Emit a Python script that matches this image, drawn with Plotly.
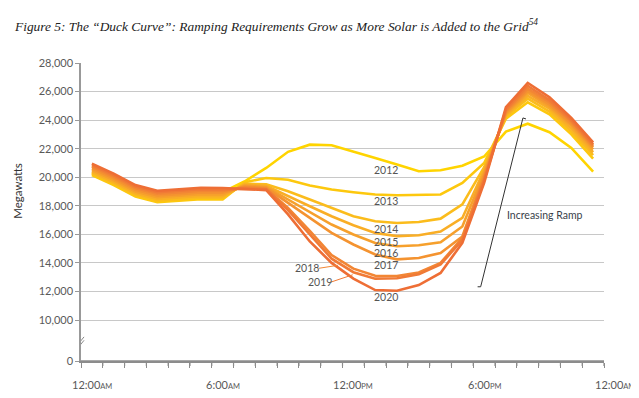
import plotly.graph_objects as go

hours = [h + 0.5 for h in range(24)]
years = ["2012", "2013", "2014", "2015", "2016", "2017", "2018", "2019", "2020"]

load_2012 = [20300, 19700, 18900, 18500, 18650, 18800, 18950, 19700, 20650, 21780, 22280, 22240,
             21820, 21350, 20890, 20420, 20490, 20800, 21450, 23200, 23750, 23150, 22050, 20400]
load_2013 = [20150, 19450, 18650, 18250, 18350, 18460, 18450, 19650, 19950, 19820, 19420, 19140,
             18950, 18790, 18740, 18770, 18790, 19600, 21000, 24100, 25250, 24400, 23000, 21300]
load_2014 = [20270, 19570, 18770, 18370, 18470, 18580, 18570, 19550, 19500, 19020, 18440, 17860,
             17270, 16920, 16800, 16870, 17100, 18100, 20700, 24250, 25500, 24600, 23200, 21550]
load_2015 = [20380, 19680, 18880, 18480, 18580, 18690, 18680, 19480, 19400, 18670, 17970, 17270,
             16640, 16100, 15880, 15940, 16200, 17150, 20500, 24350, 25700, 24800, 23400, 21750]
load_2016 = [20500, 19800, 19000, 18600, 18700, 18810, 18800, 19420, 19320, 18440, 17580, 16690,
             15990, 15400, 15170, 15240, 15450, 16550, 20300, 24450, 25900, 24950, 23600, 21950]
load_2017 = [20620, 19920, 19120, 18720, 18820, 18930, 18920, 19350, 19260, 18200, 17150, 16100,
             15290, 14590, 14250, 14350, 14700, 15850, 20100, 24550, 26050, 25100, 23750, 22100]
load_2018 = [20740, 20040, 19240, 18840, 18940, 19050, 19040, 19280, 19200, 17850, 16250, 14550,
             13600, 13100, 13080, 13330, 14000, 15750, 19900, 24650, 26200, 25250, 23900, 22200]
load_2019 = [20850, 20150, 19350, 18950, 19050, 19160, 19150, 19200, 19150, 17700, 16000, 14300,
             13350, 12900, 12930, 13200, 13900, 15600, 19800, 24750, 26400, 25400, 24000, 22300]
load_2020 = [20950, 20250, 19450, 19050, 19150, 19260, 19250, 19150, 19100, 17400, 15500, 14000,
             12900, 12100, 12050, 12450, 13300, 15400, 19600, 24900, 26600, 25600, 24150, 22450]

series = [load_2012, load_2013, load_2014, load_2015, load_2016, load_2017, load_2018, load_2019, load_2020]
colors = ["#FFD400", "#FDC80E", "#FBBC1C", "#F9AE26", "#F6A02C", "#F49330", "#F28634", "#F07A36", "#EE6E35"]

y_tick_vals = [7132, 10000, 12000, 14000, 16000, 18000, 20000, 22000, 24000, 26000, 28000]
y_tick_text = ["0", "10,000", "12,000", "14,000", "16,000", "18,000", "20,000", "22,000", "24,000", "26,000", "28,000"]
x_tick_vals = list(range(25))
x_label_pos = [0.5, 6.5, 12.5, 18.5, 24.5]
x_label_main = ["12:00", "6:00", "12:00", "6:00", "12:00"]
x_label_ampm = ["AM", "AM", "PM", "PM", "AM"]

FONT = "Lato"
X_MAX = 24
Y_BASE = 7132
PLOT_H = 398 - 55 - 45
fig = go.Figure()

for name, vals, col in zip(years, series, colors):
    fig.add_trace(go.Scatter(x=hours, y=vals, mode="lines", name=name,
                             line=dict(color=col, width=2.6), showlegend=False))

annotations = []
label_pos = {"2012": (13.99, 20490), "2013": (13.99, 18330), "2014": (13.99, 16410),
             "2015": (13.99, 15480), "2016": (13.99, 14690), "2017": (13.99, 13820),
             "2020": (13.99, 11630), "2018": (10.36, 13658), "2019": (10.95, 12660)}
for yr, (lx, ly) in label_pos.items():
    annotations.append(dict(x=lx, y=ly, xref="x", yref="y", text=yr, showarrow=False,
                            xanchor="center", yanchor="middle",
                            font=dict(family=FONT, size=10.5, color="#555555")))

for xp, m, ap in zip(x_label_pos, x_label_main, x_label_ampm):
    annotations.append(dict(x=xp / X_MAX, y=-0.078, xref="paper", yref="paper",
                            xanchor="center", yanchor="middle",
                            text=f"{m}<span style='font-size:7.5px'>{ap}</span>",
                            showarrow=False, font=dict(family=FONT, size=11, color="#595959")))

annotations.append(dict(x=21.27, y=17387, xref="x", yref="y", text="Increasing Ramp", showarrow=False,
                        xanchor="center", yanchor="middle",
                        font=dict(family=FONT, size=10.5, color="#3a3f4a")))

annotations.append(dict(x=-0.1205, y=0.571, xref="paper", yref="paper", text="Megawatts",
                        xanchor="center", yanchor="middle", textangle=-90, showarrow=False,
                        font=dict(family=FONT, size=11.5, color="#333333")))

annotations.append(dict(x=-0.132, y=1.127, xref="paper", yref="paper", xanchor="left", yanchor="middle",
                        text="<i>Figure 5: The \u201cDuck Curve\u201d: Ramping Requirements Grow as More Solar is Added to the Grid<sup>54</sup></i>",
                        showarrow=False, font=dict(family="Liberation Serif", size=13.4, color="#222222")))

shapes = []
shapes.append(dict(type="line", xref="x", yref="y", x0=10.91, y0=13623, x1=11.79, y1=13833,
                   line=dict(color="#F28634", width=1)))
shapes.append(dict(type="line", xref="x", yref="y", x0=11.47, y0=12658, x1=12.47, y1=13169,
                   line=dict(color="#F07A36", width=1)))
shapes.append(dict(type="line", xref="x", yref="y", x0=18.34, y0=12330, x1=20.28, y1=24152,
                   line=dict(color="#333333", width=1)))
shapes.append(dict(type="line", xref="x", yref="y", x0=18.20, y0=12330, x1=18.34, y1=12330,
                   line=dict(color="#333333", width=1)))
shapes.append(dict(type="line", xref="x", yref="y", x0=20.28, y0=24152, x1=20.42, y1=24082,
                   line=dict(color="#333333", width=1)))
shapes.append(dict(type="line", xref="x", yref="y", x0=-0.14, y0=8300, x1=0.14, y1=8820,
                   line=dict(color="#888888", width=1)))
shapes.append(dict(type="line", xref="x", yref="y", x0=-0.14, y0=8060, x1=0.14, y1=8580,
                   line=dict(color="#888888", width=1)))
# x-axis baseline and hourly tick marks (decoration)
shapes.append(dict(type="line", xref="x", yref="y", x0=0, y0=Y_BASE, x1=X_MAX, y1=Y_BASE,
                   layer="above", line=dict(color="#8c8c8c", width=1.5)))
for t in x_tick_vals:
    shapes.append(dict(type="line", xref="x", yref="paper", x0=t, x1=t, y0=0, y1=-5 / PLOT_H,
                       layer="above", line=dict(color="#8c8c8c", width=1.2)))

fig.update_layout(
    width=639, height=398,
    margin=dict(l=73, r=43, t=55, b=45),
    paper_bgcolor="white", plot_bgcolor="white",
    annotations=annotations,
    shapes=shapes,
    xaxis=dict(range=[0, X_MAX], tickvals=x_tick_vals, showticklabels=False,
               ticks="outside", ticklen=5, tickwidth=1.2, tickcolor="#8c8c8c",
               showgrid=False, showline=True, linecolor="#8c8c8c", linewidth=1.5,
               zeroline=False),
    yaxis=dict(range=[Y_BASE, 28000], tickvals=y_tick_vals, ticktext=y_tick_text, ticks="outside",
               ticklen=4, tickcolor="#999999", showline=True, linecolor="#999999", linewidth=1.5,
               showgrid=True, gridcolor="#c8c8c8", gridwidth=1, zeroline=False,
               tickfont=dict(family=FONT, size=11, color="#595959")),
)

fig.write_html("out.html")
